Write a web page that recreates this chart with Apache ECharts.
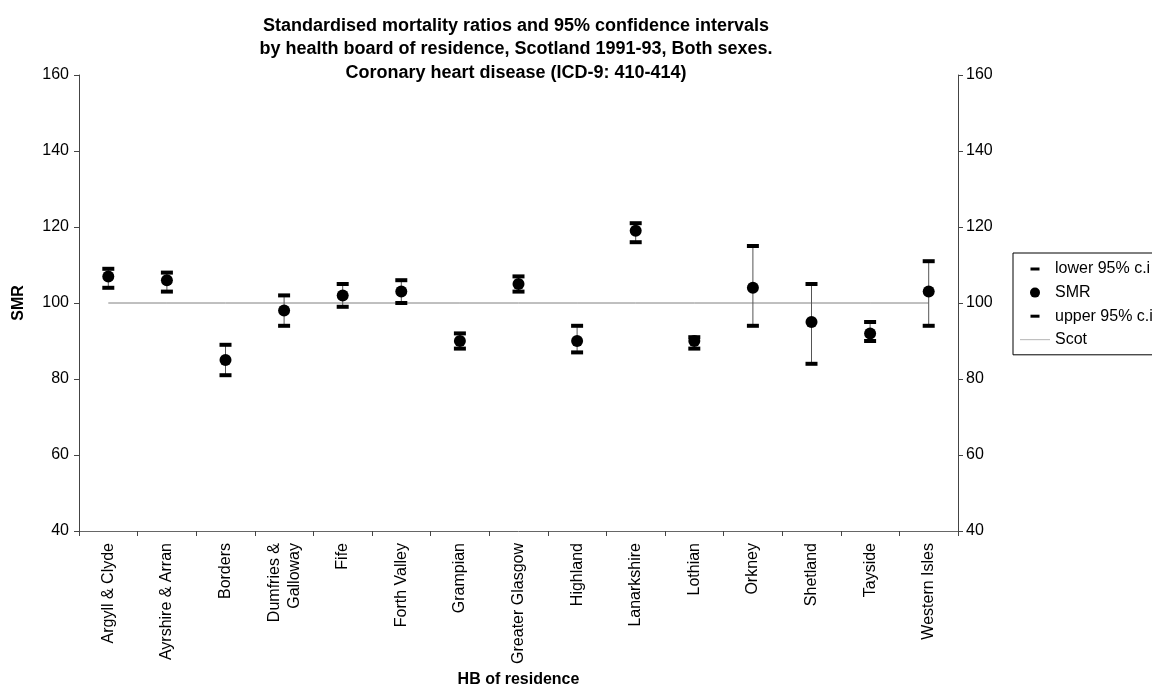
<!DOCTYPE html>
<html>
<head>
<meta charset="utf-8">
<script src="https://cdn.jsdelivr.net/npm/echarts@6/dist/echarts.min.js"></script>
<style>html,body{margin:0;padding:0;background:#fff}#c{width:1152px;height:686px}</style>
</head>
<body>
<div id="c"></div>
<script>
const categories = ['Argyll & Clyde','Ayrshire & Arran','Borders','Dumfries &\nGalloway','Fife','Forth Valley','Grampian','Greater Glasgow','Highland','Lanarkshire','Lothian','Orkney','Shetland','Tayside','Western Isles'];
const smr   = [107,106,85,98,102,103,90,105,90,119,90,104,95,92,103];
const lower = [104,103,81,94,99,100,88,103,87,116,88,94,84,90,94];
const upper = [109,108,89,102,105,106,92,107,94,121,91,115,105,95,111];
const scot  = [100,100,100,100,100,100,100,100,100,100,100,100,100,100,100];
const yTicks = {min:40, max:160, interval:20};

const font = 'Liberation Sans, Arial, sans-serif';
const dashIcon = 'path://M0,0M30,10M10.5,3.5L19.5,3.5L19.5,6.5L10.5,6.5Z';
const thinIcon = 'path://M0,4.7L30,4.7L30,5.3L0,5.3Z';

const chart = echarts.init(document.getElementById('c'), null, {renderer:'canvas'});
chart.setOption({
  animation:false,
  backgroundColor:'#fff',
  textStyle:{fontFamily:font},
  title:{
    text:'Standardised mortality ratios and 95% confidence intervals\nby health board of residence, Scotland 1991-93, Both sexes.\nCoronary heart disease (ICD-9: 410-414)',
    left:511, top:9, textAlign:'center',
    textStyle:{fontFamily:font, fontSize:18, fontWeight:'bold', color:'#000', lineHeight:23.5}
  },
  legend:{
    orient:'vertical', left:1013, top:253,
    padding:[8,40,7,7], itemGap:7.6, itemWidth:30, itemHeight:10,
    borderColor:'#000', borderWidth:1,
    textStyle:{fontFamily:font, fontSize:16, color:'#000'},
    data:[
      {name:'lower 95% c.i', icon:dashIcon},
      {name:'SMR', icon:'circle'},
      {name:'upper 95% c.i', icon:dashIcon},
      {name:'Scot', icon:thinIcon}
    ]
  },
  grid:{left:79, right:194, top:75, bottom:155, outerBoundsMode:'none', containLabel:false},
  xAxis:{
    type:'category', data:categories, boundaryGap:true,
    name:'HB of residence', nameLocation:'middle', nameGap:139,
    nameTextStyle:{fontFamily:font, fontSize:16, fontWeight:'bold', color:'#000'},
    axisLine:{lineStyle:{color:'#666', width:1}},
    axisTick:{show:true, length:5, lineStyle:{color:'#444'}},
    axisLabel:{rotate:90, margin:12, fontFamily:font, fontSize:16, color:'#000', interval:0, lineHeight:20},
    splitLine:{show:false}
  },
  yAxis:[
    {type:'value', min:yTicks.min, max:yTicks.max, interval:yTicks.interval, position:'left',
     name:'SMR', nameLocation:'middle', nameGap:52, nameRotate:90,
     nameTextStyle:{fontFamily:font, fontSize:16, fontWeight:'bold', color:'#000'},
     axisLine:{show:true, lineStyle:{color:'#444'}},
     axisTick:{show:true, length:5, lineStyle:{color:'#444'}},
     axisLabel:{fontFamily:font, fontSize:16, color:'#000', margin:10},
     splitLine:{show:false}},
    {type:'value', min:yTicks.min, max:yTicks.max, interval:yTicks.interval, position:'right',
     axisLine:{show:true, lineStyle:{color:'#444'}},
     axisTick:{show:true, length:5, lineStyle:{color:'#444'}},
     axisLabel:{fontFamily:font, fontSize:16, color:'#000', margin:8},
     splitLine:{show:false}}
  ],
  series:[
    {name:'Scot', type:'line', data:scot, symbol:'none', z:1,
     lineStyle:{color:'#808080', width:1}, itemStyle:{color:'#808080'}},
    {name:'whisker', type:'custom', z:2,
     data:categories.map((c,i)=>[i, lower[i], upper[i]]),
     encode:{x:0, y:[1,2]},
     renderItem:function(params, api){
       const x = api.value(0);
       const p1 = api.coord([x, api.value(1)]);
       const p2 = api.coord([x, api.value(2)]);
       return {type:'line', shape:{x1:p1[0], y1:p1[1], x2:p2[0], y2:p2[1]}, style:{stroke:'#555', lineWidth:1}};
     }},
    {name:'lower 95% c.i', type:'scatter', data:lower, symbol:'rect', symbolSize:[12,4], z:3,
     itemStyle:{color:'#000', opacity:1}},
    {name:'SMR', type:'scatter', data:smr, symbol:'circle', symbolSize:12, z:4,
     itemStyle:{color:'#000', opacity:1}},
    {name:'upper 95% c.i', type:'scatter', data:upper, symbol:'rect', symbolSize:[12,4], z:3,
     itemStyle:{color:'#000', opacity:1}}
  ]
});
</script>
</body>
</html>
